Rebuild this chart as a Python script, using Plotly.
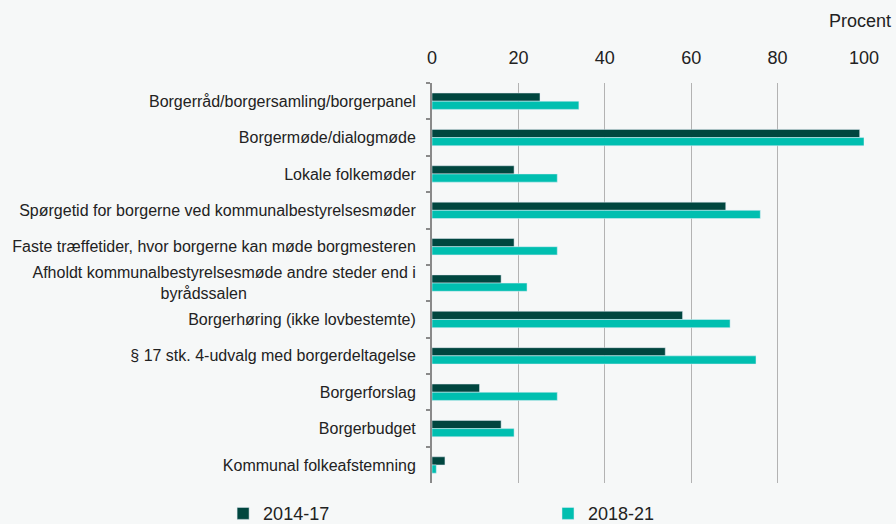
import plotly.graph_objects as go

categories = [
    "Borgerråd/borgersamling/borgerpanel",
    "Borgermøde/dialogmøde",
    "Lokale folkemøder",
    "Spørgetid for borgerne ved kommunalbestyrelsesmøder",
    "Faste træffetider, hvor borgerne kan møde borgmesteren",
    "Afholdt kommunalbestyrelsesmøde andre steder end i<br>byrådssalen" + "\u00a0" * 38,
    "Borgerhøring (ikke lovbestemte)",
    "§ 17 stk. 4-udvalg med borgerdeltagelse",
    "Borgerforslag",
    "Borgerbudget",
    "Kommunal folkeafstemning",
]
values_2014_17 = [25, 99, 19, 68, 19, 16, 58, 54, 11, 16, 3]
values_2018_21 = [34, 100, 29, 76, 29, 22, 69, 75, 29, 19, 1]
x_ticks = [0, 20, 40, 60, 80, 100]

bg = "#f6f8f8"
font = "Liberation Sans, Arial, sans-serif"

fig = go.Figure()
fig.add_trace(go.Bar(y=categories, x=values_2014_17, orientation="h", name="2014-17",
                     marker=dict(color="#00463f"), legend="legend"))
fig.add_trace(go.Bar(y=categories, x=values_2018_21, orientation="h", name="2018-21",
                     marker=dict(color="#00bfb0"), legend="legend2"))

leg_common = dict(orientation="h", xref="container", yref="container", y=0.055,
                  xanchor="left", yanchor="top", itemwidth=30,
                  font=dict(size=18, color="#222222"), bgcolor="rgba(0,0,0,0)")

fig.update_layout(
    width=896, height=524,
    paper_bgcolor=bg, plot_bgcolor=bg,
    margin=dict(l=427, r=32, t=83, b=38),
    barmode="group", bargap=0.55, bargroupgap=0,
    font=dict(family=font, color="#222222", size=15),
    showlegend=True,
    legend=dict(x=0.249, **leg_common),
    legend2=dict(x=0.6116, **leg_common),
    annotations=[dict(text="Procent", xref="paper", yref="paper", x=1.066, y=1.156,
                      xanchor="right", yanchor="middle", showarrow=False,
                      font=dict(size=18, color="#222222"))],
)
fig.update_xaxes(side="top", range=[0, 100], tickvals=x_ticks, showgrid=True,
                 gridcolor="#b3b3b3", gridwidth=1, zeroline=False, showline=False,
                 ticks="", tickfont=dict(size=18, color="#222222"), ticklabelstandoff=14,
                 fixedrange=True)
fig.update_yaxes(autorange="reversed", showline=True, linecolor="#8a8a8a", linewidth=2,
                 ticks="outside", ticklen=4, tickcolor="#8a8a8a", tickwidth=2,
                 tickson="boundaries", showgrid=False, tickfont=dict(size=16, color="#222222"),
                 ticklabelstandoff=11, fixedrange=True)

fig.write_html("out.html", config={"displayModeBar": False},
               post_script="document.body.style.margin='0';document.body.style.background='%s';" % bg)
